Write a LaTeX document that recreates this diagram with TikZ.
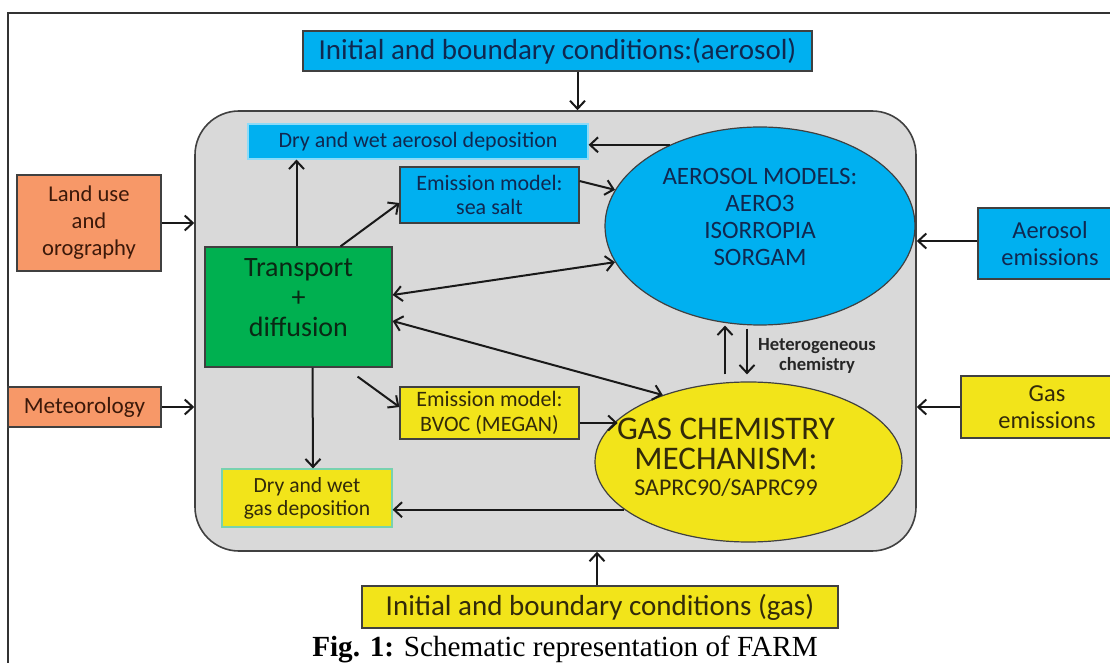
\documentclass[tikz,border=0pt]{standalone}
\usepackage{fontspec}
\setmainfont{Carlito}
\newfontfamily\seriffont{Liberation Serif}
\usetikzlibrary{arrows.meta,shapes.geometric}
\definecolor{aerblue}{RGB}{0,176,240}
\definecolor{gasyellow}{RGB}{242,228,26}
\definecolor{landorange}{RGB}{247,152,104}
\definecolor{trgreen}{RGB}{0,176,80}
\definecolor{farmgray}{RGB}{217,217,217}
\definecolor{edgegray}{RGB}{64,64,64}
\definecolor{navytxt}{RGB}{16,40,80}
\definecolor{olivetxt}{RGB}{50,42,10}
\definecolor{browntxt}{RGB}{60,25,10}
\definecolor{greentxt}{RGB}{10,40,20}
\definecolor{lightedge}{RGB}{120,210,175}

\begin{document}
\begin{tikzpicture}[x=0.5pt, y=-0.5pt, >={Straight Barb[length=4pt,width=7.5pt]},
	every node/.style={inner sep=0pt},
	box/.style={draw=edgegray, line width=0.6pt, rectangle, align=center},
	aerbox/.style={box, fill=aerblue, text=navytxt},
	gasbox/.style={box, fill=gasyellow, text=olivetxt},
	inbox/.style={box, fill=landorange, text=browntxt},
	flow/.style={->, line width=1pt, black!90}]
	\useasboundingbox (0,0) rectangle (1110,663);
	\clip (0,0) rectangle (1110,663);
	\fill[white] (0,0) rectangle (1110,663);
	\draw[line width=1pt, black!80] (8,663) -- (8,13) -- (1110,13);

	\node[aerbox, minimum width=254.5pt, minimum height=20pt, font=\fontsize{14.5}{16}\selectfont] (icaer) at (557.5,51) {Initial and boundary conditions:(aerosol)};
	\node[gasbox, minimum width=238pt, minimum height=21pt, font=\fontsize{14.5}{16}\selectfont] (icgas) at (600,607) {Initial and boundary conditions (gas)};
	\node[draw=edgegray, line width=0.8pt, fill=farmgray, rounded corners=22pt, minimum width=360.5pt, minimum height=220pt] (farm) at (555.5,331) {};

	\node[aerbox, draw=aerblue!45!white, minimum width=170pt, minimum height=17.5pt, font=\fontsize{11}{12}\selectfont] (dryaer) at (418,141.5) {Dry and wet aerosol deposition};
	\node[aerbox, minimum width=89.5pt, minimum height=28pt, font=\fontsize{11}{12}\selectfont] (seasalt) at (489.5,195) {Emission model:\\sea salt};
	\node[ellipse, draw=edgegray, line width=0.6pt, fill=aerblue, minimum width=155pt, minimum height=99pt] (aermod) at (760,226) {};
	\node[text=navytxt, align=center, font=\fontsize{12.5}{13.5}\selectfont] (aermodtxt) at (760,217) {AEROSOL MODELS:\\AERO3\\ISORROPIA\\SORGAM};
	\node[box, fill=trgreen, minimum width=93.5pt, minimum height=60pt] (transport) at (298.5,307) {};
	\node[text=greentxt, align=center, font=\fontsize{14}{15}\selectfont] (transporttxt) at (298.5,298) {Transport\\+\\diffusion};
	\node[gasbox, minimum width=89.5pt, minimum height=26pt, font=\fontsize{11}{12.5}\selectfont] (bvoc) at (489.5,413) {Emission model:\\BVOC (MEGAN)};
	\node[gasbox, draw=lightedge, minimum width=85pt, minimum height=29pt, font=\fontsize{10.8}{11.5}\selectfont] (drygas) at (307,498) {Dry and wet\\gas deposition};
	\node[ellipse, draw=edgegray, line width=0.6pt, fill=gasyellow, minimum width=153.5pt, minimum height=80pt] (gasmech) at (748.5,462) {};
	\node[text=olivetxt, align=center, font=\fontsize{16.5}{15}\selectfont] (gasmechtxt) at (726,457) {GAS CHEMISTRY\\MECHANISM:\\[-2pt]\fontsize{12}{12.5}\selectfont SAPRC90/SAPRC99};
	\node[text=black!85, align=center, font=\bfseries\fontsize{9.3}{10}\selectfont] (het) at (817,356) {Heterogeneous\\chemistry};

	\node[inbox, minimum width=72pt, minimum height=48pt, font=\fontsize{11.3}{13.5}\selectfont] (landuse) at (89,223) {Land use\\and\\orography};
	\node[inbox, minimum width=76.5pt, minimum height=20pt, font=\fontsize{11.6}{13}\selectfont] (meteo) at (84.5,407) {Meteorology};
	\node[aerbox, minimum width=72pt, minimum height=35.5pt, font=\fontsize{12.2}{13.3}\selectfont] (aeremis) at (1050,243.5) {Aerosol\\emissions};
	\node[gasbox, minimum width=86pt, minimum height=31pt, font=\fontsize{12.2}{13.3}\selectfont] (gasemis) at (1047,407) {Gas\\emissions};

	\draw[flow] ([xshift=10pt]icaer.south) -- ([xshift=10pt]icaer.south |- farm.north);
	\draw[flow] ([xshift=-1.5pt]icgas.north) -- ([xshift=-1.5pt]icgas.north |- farm.south);
	\draw[flow] (landuse.east) -- (landuse.east -| farm.west);
	\draw[flow] (meteo.east) -- (meteo.east -| farm.west);
	\draw[flow] ([yshift=1.25pt]aeremis.west) -- ([yshift=1.25pt]aeremis.west -| farm.east);
	\draw[flow] (gasemis.west) -- (gasemis.west -| farm.east);
	\draw[flow] ([xshift=-1pt]transport.north) -- ([xshift=-1pt]transport.north |- dryaer.south);
	\draw[flow] ([xshift=21pt]transport.north) -- ([yshift=-4pt]seasalt.west);
	\draw[flow] ([yshift=7pt]seasalt.east) -- (aermod.166);
	\draw[flow] (aermod.138) -- (aermod.138 -| dryaer.east);
	\draw[flow, <->] ([yshift=6pt]transport.east) -- (aermod.194);
	\draw[flow, <->] ([yshift=-7pt]transport.east) -- (gasmech.142);
	\draw[flow] ([xshift=7pt]transport.south) -- ([xshift=3pt]drygas.north);
	\draw[flow] ([shift={(-17.5pt,-4.5pt)}]transport.south east) -- ([yshift=3pt]bvoc.west);
	\draw[flow] ([yshift=-5pt]bvoc.east) -- ([yshift=-5pt]bvoc.east -| gasmech.162);
	\draw[flow] (gasmech.201) -- (gasmech.201 -| drygas.east);
	\draw[flow] ([shift={(-11.75pt,3.5pt)}]gasmech.north) -- ([xshift=-17.5pt]aermod.south);
	\draw[flow] ([shift={(-6.5pt,-1.5pt)}]aermod.south) -- ([shift={(-0.75pt,3.5pt)}]gasmech.north);

	\node[anchor=base, font=\seriffont\fontsize{14.6}{16}\selectfont] (caption) at (565,656) {\textbf{Fig. 1:} Schematic representation of FARM};
\end{tikzpicture}
\end{document}
